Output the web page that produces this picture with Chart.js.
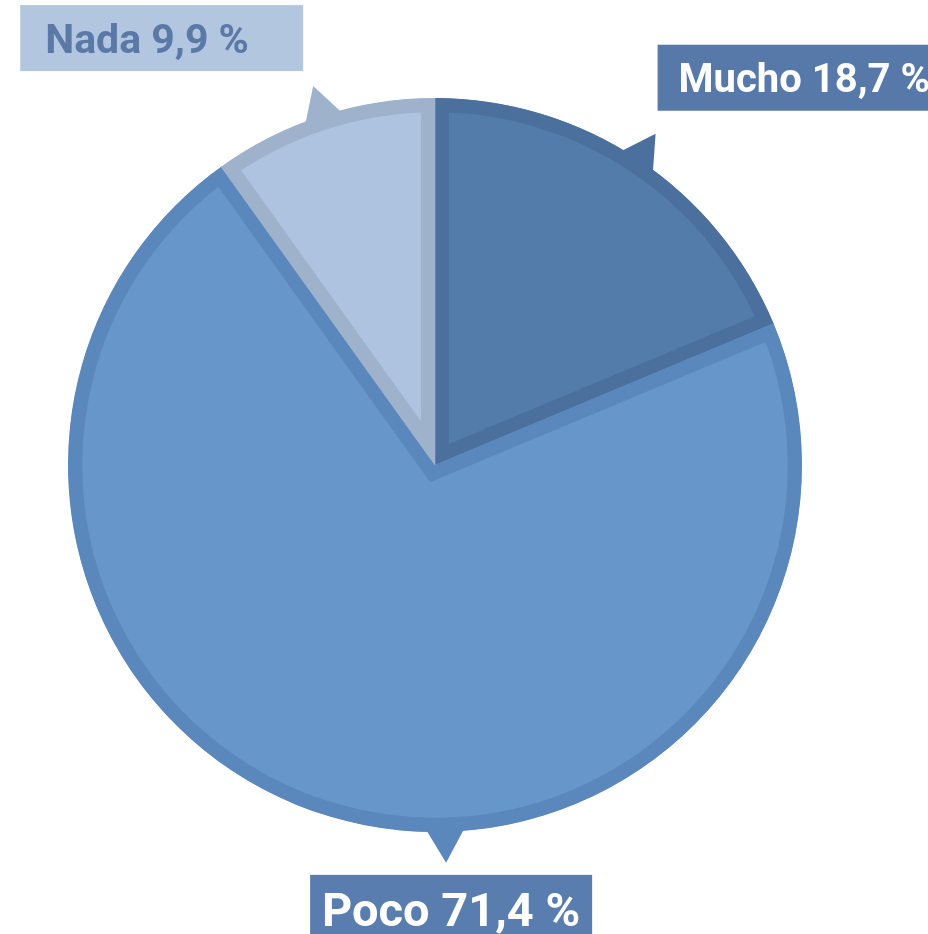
<!DOCTYPE html>
<html>
<head>
<meta charset="utf-8">
<script src="https://cdn.jsdelivr.net/npm/chart.js@4.4.1/dist/chart.umd.min.js"></script>
<style>
  html, body { margin: 0; padding: 0; background: #fff; }
  #wrap { width: 928px; height: 934px; position: relative; overflow: hidden; }
</style>
</head>
<body>
<div id="wrap"><canvas id="pie" width="928" height="934"></canvas></div>
<script>
  // data
  const labels = ["Mucho", "Poco", "Nada"];
  const values = [18.7, 71.4, 9.9];
  const valueText = ["18,7 %", "71,4 %", "9,9 %"];

  const fills   = ["#537cab", "#6797ca", "#adc3df"];
  const borders = ["#4b709e", "#5a88bc", "#9eb2cc"];

  // callout look, one per slice (angle null = middle of the slice)
  const callouts = [
    { angle: null, anchor: "bottom-left",  dx: 2,   dy: -23, w: 275, h: 66, size: 40, padX: 21, bg: "#5679a9", color: "#ffffff" },
    { angle: 88.4, anchor: "top-center",   dx: 5,   dy: 12,  w: 282, h: 76, size: 47, padX: null, bg: "#5a7daf", color: "#ffffff" },
    { angle: null, anchor: "bottom-right", dx: -10, dy: -15, w: 283, h: 66, size: 41, padX: 25, bg: "#b2c6e0", color: "#5a79a7" }
  ];

  const calloutPlugin = {
    id: "callouts",
    afterDatasetsDraw(chart) {
      const ctx = chart.ctx;
      const meta = chart.getDatasetMeta(0);
      meta.data.forEach((arc, i) => {
        const c = callouts[i];
        if (!c) return;
        const p = arc.getProps(["x", "y", "startAngle", "endAngle", "outerRadius"], true);
        const a = c.angle != null ? c.angle * Math.PI / 180 : (p.startAngle + p.endAngle) / 2;
        const r = p.outerRadius;
        const ux = Math.cos(a), uy = Math.sin(a);
        const tx = -uy, ty = ux;
        const baseR = r - 6, tipR = r + 31, half = 21;
        const bx = p.x + ux * baseR, by = p.y + uy * baseR;
        const ax = p.x + ux * tipR, ay = p.y + uy * tipR;

        ctx.save();
        ctx.fillStyle = borders[i];
        ctx.beginPath();
        ctx.moveTo(bx + tx * half, by + ty * half);
        ctx.lineTo(ax, ay);
        ctx.lineTo(bx - tx * half, by - ty * half);
        ctx.closePath();
        ctx.fill();

        // box
        let left, top;
        if (c.anchor === "bottom-left") { left = ax + c.dx; top = ay + c.dy - c.h; }
        else if (c.anchor === "bottom-right") { left = ax + c.dx - c.w; top = ay + c.dy - c.h; }
        else { left = ax + c.dx - c.w / 2; top = ay + c.dy; }
        ctx.fillStyle = c.bg;
        ctx.fillRect(left, top, c.w, c.h);

        const text = labels[i] + " " + valueText[i];
        ctx.font = "bold " + c.size + "px Roboto, 'Liberation Sans', sans-serif";
        ctx.fillStyle = c.color;
        ctx.textBaseline = "alphabetic";
        const capH = c.size * 0.711;
        const base = top + Math.min(c.h, 66) / 2 + capH / 2 + (c.h > 66 ? (c.h - 66) / 2 - 4 : 0);
        if (c.padX == null) {
          ctx.textAlign = "center";
          ctx.fillText(text, left + c.w / 2, base);
        } else {
          ctx.textAlign = "left";
          ctx.fillText(text, left + c.padX, base);
        }
        ctx.restore();
      });
    }
  };

  new Chart(document.getElementById("pie"), {
    type: "pie",
    data: {
      labels: labels,
      datasets: [{
        data: values,
        backgroundColor: fills,
        borderColor: borders,
        borderWidth: 14,
        borderAlign: "inner",
        borderJoinStyle: "miter",
        hoverOffset: 0,
        offset: 0
      }]
    },
    options: {
      responsive: false,
      animation: false,
      events: [],
      layout: { padding: { left: 68, right: 126, top: 98, bottom: 102 } },
      plugins: { legend: { display: false }, tooltip: { enabled: false } }
    },
    plugins: [calloutPlugin]
  });
</script>
</body>
</html>
